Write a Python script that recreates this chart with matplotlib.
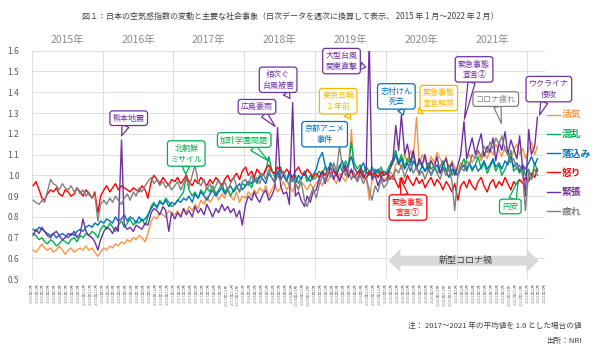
import pandas as pd
import matplotlib
matplotlib.use("Agg")
import matplotlib.pyplot as plt
import matplotlib.dates as mdates
from matplotlib.patches import Polygon

plt.rcParams['font.family'] = ['Noto Sans CJK JP', 'DejaVu Sans']

# 半月ごとのデータ (2015年1月〜2022年2月)
dates = pd.date_range("2015-01-01", periods=172, freq="SMS") + pd.Timedelta(days=7)

kakki = [
    0.64, 0.63, 0.65, 0.67, 0.65, 0.64, 0.65, 0.63, 0.64, 0.66, 0.64, 0.62,
    0.64, 0.65, 0.63, 0.64, 0.65, 0.64, 0.66, 0.64, 0.65, 0.63, 0.61, 0.63,
    0.65, 0.64, 0.66, 0.65, 0.67, 0.66, 0.68, 0.67, 0.69, 0.68, 0.70, 0.69,
    0.71, 0.70, 0.68, 0.72, 0.78, 0.80, 0.79, 0.82, 0.81, 0.80, 0.83, 0.82,
    0.81, 0.83, 0.80, 0.84, 0.82, 0.85, 0.83, 0.86, 0.84, 0.88, 0.86, 0.90,
    0.87, 0.89, 0.92, 0.88, 0.91, 0.89, 0.93, 0.90, 0.88, 0.92, 0.87, 0.90,
    0.89, 0.92, 0.90, 0.93, 0.91, 0.94, 0.92, 0.95, 0.90, 0.93, 0.96, 0.92,
    0.94, 0.97, 0.93, 0.95, 0.92, 0.96, 0.94, 0.97, 0.95, 0.93, 0.96, 0.94,
    0.96, 0.98, 0.95, 0.99, 0.97, 1.00, 0.98, 0.96, 1.01, 0.99, 0.97, 1.02,
    1.22, 1.00, 0.99, 1.01, 0.98, 1.00, 0.88, 0.97, 1.02, 0.99, 1.01, 0.98,
    0.99, 1.02, 1.00, 1.05, 1.08, 1.03, 1.10, 1.06, 1.12, 1.08, 1.28, 1.05,
    1.10, 1.07, 1.04, 1.09, 1.06, 1.11, 1.08, 1.05, 1.09, 1.03, 1.07, 1.04,
    1.02, 1.06, 1.04, 1.08, 1.10, 1.06, 1.09, 1.12, 1.07, 1.11, 1.08, 1.13,
    1.10, 1.15, 1.12, 1.09, 1.14, 1.11, 1.08, 1.12, 1.15, 1.10, 1.13, 1.08,
    1.12, 1.16, 1.10, 1.14,
]

konran = [
    0.72, 0.71, 0.69, 0.70, 0.68, 0.67, 0.69, 0.68, 0.66, 0.67, 0.69, 0.68,
    0.67, 0.69, 0.70, 0.68, 0.71, 0.70, 0.72, 0.71, 0.73, 0.72, 0.70, 0.74,
    0.76, 0.74, 0.77, 0.75, 0.73, 0.76, 0.78, 0.75, 0.77, 0.79, 0.76, 0.78,
    0.77, 0.79, 0.76, 0.80, 0.85, 0.87, 0.84, 0.88, 0.86, 0.89, 0.87, 0.85,
    0.86, 0.88, 0.90, 0.92, 1.00, 0.93, 0.90, 0.92, 0.89, 0.93, 0.91, 0.94,
    0.92, 0.95, 0.91, 0.93, 0.96, 0.92, 0.94, 0.90, 0.93, 0.95, 0.92, 0.96,
    0.95, 0.97, 0.94, 0.98, 0.96, 0.99, 1.00, 1.02, 1.09, 1.03, 0.99, 1.01,
    1.04, 1.00, 0.98, 1.02, 0.97, 1.00, 0.96, 0.99, 1.01, 0.97, 1.00, 0.98,
    0.99, 1.02, 1.00, 1.04, 1.01, 1.06, 1.03, 1.00, 1.05, 1.02, 1.07, 1.04,
    1.16, 1.06, 1.03, 1.05, 1.01, 1.04, 1.02, 0.99, 1.03, 1.01, 1.04, 1.00,
    1.02, 1.05, 1.08, 1.12, 1.06, 1.10, 1.04, 1.08, 1.05, 1.11, 1.03, 1.07,
    1.04, 1.02, 1.06, 1.03, 1.05, 1.01, 1.04, 1.07, 1.02, 1.05, 1.00, 1.03,
    1.00, 1.04, 1.08, 1.03, 1.06, 1.02, 1.05, 1.09, 1.03, 1.06, 1.01, 1.04,
    1.07, 1.02, 1.05, 1.00, 1.03, 1.06, 1.12, 1.02, 1.04, 1.01, 1.05, 1.00,
    1.03, 0.98, 1.06, 1.02,
]

ochikomi = [
    0.74, 0.73, 0.75, 0.74, 0.73, 0.72, 0.71, 0.72, 0.70, 0.71, 0.72, 0.71,
    0.70, 0.72, 0.71, 0.73, 0.74, 0.73, 0.75, 0.76, 0.75, 0.77, 0.76, 0.78,
    0.77, 0.79, 0.78, 0.77, 0.80, 0.78, 0.79, 0.81, 0.78, 0.80, 0.79, 0.77,
    0.80, 0.78, 0.79, 0.81, 0.84, 0.86, 0.85, 0.87, 0.86, 0.88, 0.85, 0.87,
    0.86, 0.88, 0.87, 0.89, 0.88, 0.90, 0.87, 0.91, 0.89, 0.92, 0.90, 0.88,
    0.91, 0.93, 0.90, 0.92, 0.94, 0.91, 0.93, 0.95, 0.92, 0.94, 0.96, 0.93,
    0.95, 0.97, 0.96, 0.99, 0.97, 1.00, 0.98, 0.96, 1.01, 0.99, 0.97, 1.02,
    0.98, 1.00, 0.97, 1.01, 0.99, 0.96, 1.00, 0.98, 1.02, 0.99, 0.97, 1.00,
    1.03, 1.08, 1.11, 1.05, 1.02, 1.06, 1.03, 1.00, 1.04, 1.07, 1.02, 1.05,
    1.09, 1.04, 1.01, 1.03, 1.06, 1.02, 1.00, 1.04, 1.01, 1.03, 0.99, 1.02,
    1.01, 1.03, 1.06, 1.10, 1.05, 1.08, 1.03, 1.06, 1.02, 1.07, 1.04, 1.01,
    1.05, 1.02, 1.04, 1.00, 1.03, 1.05, 1.01, 1.04, 1.02, 0.99, 1.03, 1.01,
    1.00, 1.03, 1.05, 1.02, 1.06, 1.03, 1.05, 1.02, 1.04, 1.07, 1.03, 1.05,
    1.08, 1.04, 1.06, 1.03, 1.07, 1.05, 1.09, 1.04, 1.06, 1.02, 1.05, 1.03,
    1.06, 1.09, 1.05, 1.08,
]

ikari = [
    0.95, 0.97, 0.93, 0.89, 0.88, 0.91, 0.93, 0.92, 0.94, 0.91, 0.90, 0.93,
    0.92, 0.90, 0.91, 0.94, 0.92, 0.90, 0.93, 0.91, 0.89, 0.92, 0.82, 0.90,
    0.93, 0.95, 0.92, 0.94, 0.96, 0.93, 0.95, 0.94, 0.93, 0.92, 0.94, 0.93,
    0.92, 0.95, 0.93, 0.89, 0.97, 1.00, 0.98, 0.96, 0.99, 0.97, 0.95, 0.98,
    0.97, 0.99, 0.96, 0.98, 1.00, 0.97, 0.95, 0.98, 0.96, 0.99, 0.97, 0.95,
    0.98, 0.96, 0.99, 0.97, 0.95, 0.98, 1.00, 0.97, 0.99, 1.01, 0.98, 1.02,
    1.04, 1.00, 1.02, 0.99, 1.03, 1.01, 1.00, 1.03, 1.05, 1.02, 1.01, 1.04,
    1.02, 1.00, 1.03, 1.01, 0.99, 1.02, 1.04, 1.01, 1.00, 1.03, 1.01, 0.99,
    1.01, 0.99, 1.02, 1.00, 1.03, 1.01, 1.02, 1.00, 0.98, 1.01, 1.03, 1.00,
    1.02, 0.99, 1.01, 1.03, 1.00, 0.98, 1.02, 1.00, 1.01, 0.99, 1.02, 1.00,
    1.01, 0.98, 1.00, 0.97, 0.94, 0.99, 0.96, 1.00, 0.97, 0.95, 0.99, 0.96,
    0.98, 0.94, 0.97, 0.99, 0.95, 0.98, 0.96, 0.93, 0.97, 0.95, 0.92, 0.96,
    0.88, 0.95, 0.97, 0.94, 0.98, 0.95, 0.93, 0.97, 0.99, 0.95, 0.92, 0.96,
    0.98, 0.94, 0.97, 0.95, 0.99, 0.96, 0.93, 0.97, 0.95, 0.98, 0.96, 0.99,
    0.97, 1.01, 0.99, 1.03,
]

kincho = [
    0.71, 0.74, 0.72, 0.75, 0.73, 0.71, 0.70, 0.72, 0.73, 0.71, 0.69, 0.70,
    0.72, 0.71, 0.73, 0.70, 0.72, 0.79, 0.73, 0.71, 0.70, 0.68, 0.64, 0.69,
    0.73, 0.75, 0.74, 0.72, 0.75, 0.73, 1.17, 0.76, 0.74, 0.75, 0.73, 0.76,
    0.75, 0.74, 0.77, 0.76, 0.82, 0.84, 0.83, 0.81, 0.85, 0.83, 0.73, 0.82,
    0.79, 0.82, 0.80, 0.84, 0.81, 0.83, 0.80, 0.85, 0.82, 0.84, 0.81, 0.86,
    0.83, 0.80, 0.84, 0.82, 0.86, 0.83, 0.85, 0.82, 0.84, 0.80, 0.83, 0.76,
    0.86, 0.90, 0.88, 0.92, 0.89, 0.87, 0.91, 0.93, 0.88, 0.90, 0.94, 1.23,
    0.95, 0.91, 0.92, 0.86, 1.35, 0.90, 0.92, 0.88, 0.85, 0.90, 0.87, 0.92,
    0.93, 0.98, 1.02, 0.96, 1.00, 1.04, 0.98, 1.02, 0.97, 1.01, 1.05, 0.99,
    1.03, 1.00, 0.97, 1.02, 0.99, 1.01, 1.65, 0.98, 1.00, 0.95, 0.99, 0.97,
    0.98, 1.03, 1.08, 1.24, 1.12, 1.29, 1.10, 1.15, 1.06, 1.12, 1.03, 1.08,
    1.05, 1.10, 1.02, 1.07, 1.04, 1.09, 1.01, 1.05, 1.08, 1.02, 1.06, 1.00,
    1.05, 1.10, 1.26, 1.08, 1.13, 1.18, 1.10, 1.15, 1.20, 1.09, 1.14, 1.11,
    1.18, 1.07, 1.16, 1.12, 1.21, 1.10, 1.17, 1.13, 1.08, 1.19, 1.03, 0.90,
    1.22, 1.10, 1.14, 1.28,
]

tsukare = [
    0.88, 0.87, 0.86, 0.88, 0.87, 0.92, 0.98, 0.96, 0.95, 0.93, 0.96, 0.94,
    0.93, 0.95, 0.92, 0.94, 0.91, 0.93, 0.90, 0.92, 0.89, 0.91, 0.78, 0.86,
    0.88, 0.86, 0.89, 0.87, 0.90, 0.88, 0.86, 0.89, 0.91, 0.88, 0.92, 0.90,
    0.94, 0.92, 0.95, 0.97, 0.99, 0.96, 0.98, 0.95, 0.97, 0.94, 0.96, 0.93,
    0.95, 0.97, 0.93, 0.96, 0.99, 0.94, 1.00, 1.05, 0.97, 0.95, 0.98, 0.93,
    0.96, 0.92, 0.95, 0.98, 0.94, 0.97, 0.93, 0.96, 0.99, 0.95, 0.92, 0.97,
    0.98, 0.95, 1.00, 0.97, 0.99, 0.96, 1.01, 0.98, 1.03, 0.99, 0.96, 1.00,
    0.97, 1.02, 0.98, 0.95, 0.99, 0.96, 0.93, 0.97, 0.88, 0.85, 0.90, 0.94,
    0.89, 0.95, 1.00, 0.97, 1.03, 0.99, 1.06, 1.02, 1.14, 1.04, 1.00, 1.03,
    0.98, 1.01, 0.97, 1.00, 0.96, 0.99, 0.93, 0.88, 0.95, 0.92, 0.98, 0.94,
    0.96, 1.00, 0.98, 1.03, 1.01, 1.05, 0.99, 1.03, 1.06, 1.01, 1.04, 1.00,
    1.02, 0.98, 1.03, 1.00, 1.05, 1.01, 0.98, 1.03, 1.00, 1.04, 0.97, 0.83,
    1.00, 1.04, 1.02, 1.07, 1.05, 1.10, 1.08, 1.12, 1.09, 1.14, 1.11, 1.16,
    1.13, 1.18, 1.15, 1.19, 1.12, 1.10, 1.06, 1.08, 1.03, 1.05, 1.00, 0.83,
    1.02, 0.98, 1.03, 1.00,
]

series_names = ["活気", "混乱", "落込み", "怒り", "緊張", "疲れ"]
series_colors = ["#F79646", "#00B050", "#0070C0", "#FF0000", "#7030A0", "#808080"]
series_values = [kakki, konran, ochikomi, ikari, kincho, tsukare]

# 吹き出し: (テキスト, 色, 吹き出し位置, 指し示す点)
callouts = [
    ("熊本地震", "#7030A0", ("2016-05-15", 1.275), ("2016-04-08", 1.19)),
    ("北朝鮮\nミサイル", "#00B050", ("2017-03-08", 1.105), ("2017-03-05", 1.005)),
    ("加計学園問題", "#00B050", ("2018-01-01", 1.17), ("2018-05-05", 1.07)),
    ("広島豪雨", "#7030A0", ("2018-03-08", 1.33), ("2018-06-10", 1.235)),
    ("相次ぐ\n台風被害", "#7030A0", ("2018-06-25", 1.46), ("2018-08-25", 1.37)),
    ("大型台風\n関東直撃", "#7030A0", ("2019-05-18", 1.55), ("2019-09-20", 1.52)),
    ("東京五輪\n１年前", "#F2B800", ("2019-05-01", 1.357), ("2019-07-05", 1.27)),
    ("京都アニメ\n事件", "#0070C0", ("2019-02-20", 1.198), ("2019-06-15", 1.17)),
    ("志村けん\n死去", "#0070C0", ("2020-02-25", 1.38), ("2020-04-01", 1.29)),
    ("緊急事態\n宣言解除", "#F2B800", ("2020-10-01", 1.372), ("2020-06-15", 1.30)),
    ("緊急事態\n宣言②", "#7030A0", ("2021-04-01", 1.51), ("2021-02-10", 1.27)),
    ("コロナ疲れ", "#808080", ("2021-07-22", 1.367), ("2021-08-20", 1.25)),
    ("ウクライナ\n侵攻", "#7030A0", ("2022-04-22", 1.415), ("2022-03-05", 1.29)),
    ("緊急事態\n宣言①", "#FF0000", ("2020-04-25", 0.845), ("2020-03-15", 0.985)),
    ("円安", "#00B050", ("2021-10-05", 0.85), ("2021-11-15", 0.976)),
]

years = [2015, 2016, 2017, 2018, 2019, 2020, 2021]

fig = plt.figure(figsize=(6, 3.57), dpi=100)
ax = fig.add_axes([0.053, 0.218, 0.855, 0.64])

for name, vals, col in zip(series_names, series_values, series_colors):
    ax.plot(dates, vals, color=col, lw=1.0, label=name)

ax.set_xlim(pd.Timestamp("2015-01-01"), pd.Timestamp("2022-04-01"))
ax.set_ylim(0.5, 1.6)

# 目盛り
yt = [0.5, 0.6, 0.7, 0.8, 0.9, 1.0, 1.1, 1.2, 1.3, 1.4, 1.5, 1.6]
ax.set_yticks(yt)
ax.set_yticklabels([f"{v:.1f}" for v in yt], fontsize=6, color="#595959")
ax.tick_params(axis="y", length=0, pad=9)

ax.xaxis.set_major_locator(mdates.MonthLocator())
ax.xaxis.set_major_formatter(
    plt.FuncFormatter(lambda x, pos: f"{mdates.num2date(x).year}年{mdates.num2date(x).month}月"))
ax.tick_params(axis="x", length=0, pad=3, labelsize=3, labelcolor="#8c8c8c", labelrotation=90)

ax.grid(axis="y", color="#d9d9d9", lw=0.6)
for y in years + [2022]:
    ax.axvline(pd.Timestamp(f"{y}-01-01"), color="#d9d9d9", lw=0.6, zorder=0)
for s in ax.spines.values():
    s.set_visible(False)

for y in years:
    ax.text(pd.Timestamp(f"{y}-07-02"), 1.046, f"{y}年", transform=ax.get_xaxis_transform(),
            ha="center", va="center", fontsize=7.5, color="#8c8c8c")

# 吹き出し
for txt, col, box, tip in callouts:
    ax.annotate(txt, xy=(pd.Timestamp(tip[0]), tip[1]),
                xytext=(pd.Timestamp(box[0]), box[1]),
                ha="center", va="center", fontsize=5.8, color=col, linespacing=1.25,
                bbox=dict(boxstyle="round,pad=0.35", fc="white", ec=col, lw=0.9),
                arrowprops=dict(arrowstyle="wedge,tail_width=0.9", fc="white", ec=col, lw=0.9,
                                shrinkA=0, shrinkB=0),
                annotation_clip=False, zorder=6)

# 新型コロナ禍の矢印
x0 = mdates.date2num(pd.Timestamp("2020-01-15"))
x1 = mdates.date2num(pd.Timestamp("2022-02-28"))
hl = 62
yc, bh, hh = 0.589, 0.024, 0.056
arrow = Polygon([(x0, yc), (x0 + hl, yc + hh), (x0 + hl, yc + bh), (x1 - hl, yc + bh),
                 (x1 - hl, yc + hh), (x1, yc), (x1 - hl, yc - hh), (x1 - hl, yc - bh),
                 (x0 + hl, yc - bh), (x0 + hl, yc - hh)],
                closed=True, fc="#d9d9d9", ec="none", zorder=3)
ax.add_patch(arrow)
ax.text(pd.Timestamp("2021-02-15"), yc, "新型コロナ禍", ha="center", va="center",
        fontsize=6.5, color="#404040", zorder=4)

leg = ax.legend(loc="upper left", bbox_to_anchor=(1.005, 0.74), frameon=False,
                fontsize=7, labelcolor="linecolor", handlelength=1.3, handletextpad=0.2,
                labelspacing=0.95, borderpad=0, borderaxespad=0)
for t in leg.get_texts():
    t.set_fontweight("bold")

fig.text(0.483, 0.955, "図１：日本の空気感指数の変動と主要な社会事象（日次データを週次に換算して表示、 2015 年 1 月～2022 年 2 月）",
         ha="center", va="center", fontsize=5.8, color="#404040")
fig.text(0.97, 0.087, "注： 2017～2021 年の平均値を 1.0 とした場合の値", ha="right", va="center",
         fontsize=5.5, color="#404040")
fig.text(0.97, 0.045, "出所：NRI", ha="right", va="center", fontsize=5.5, color="#404040")

fig.savefig("out.png", dpi=100, facecolor="white")
